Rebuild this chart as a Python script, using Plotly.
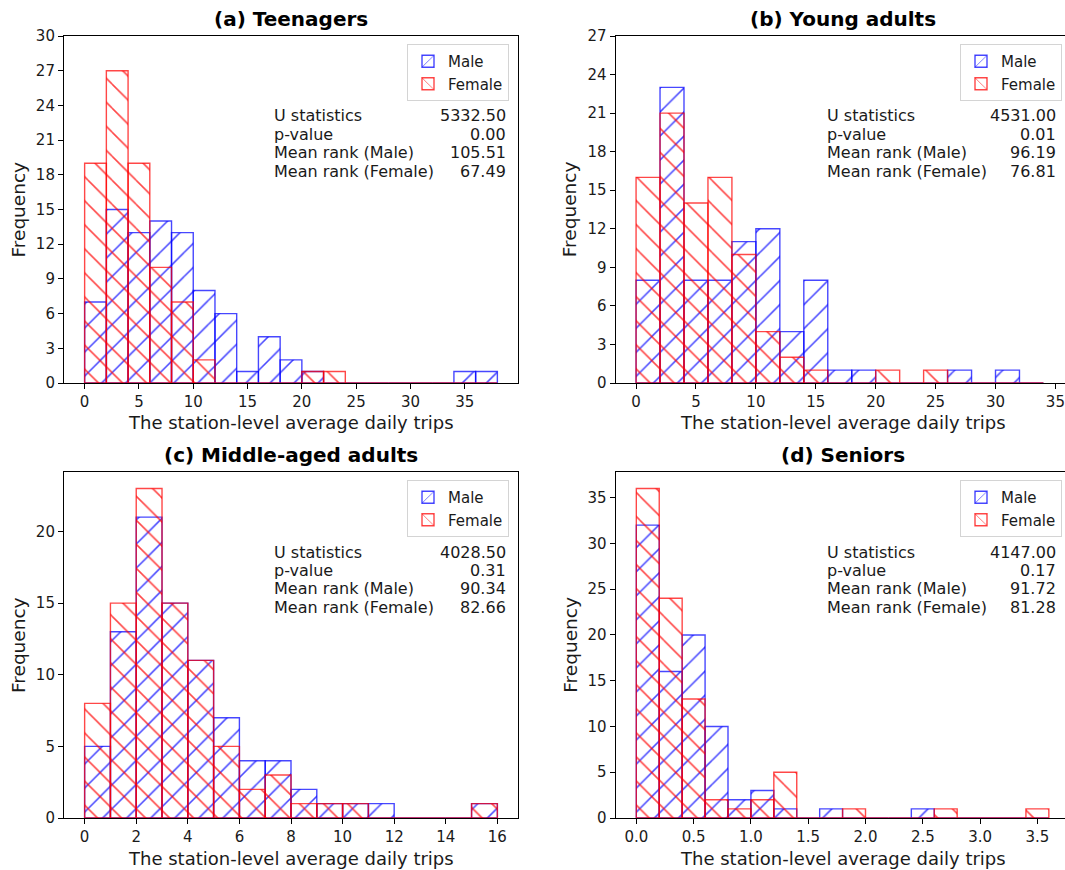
import plotly.graph_objects as go

# ---------------- data ----------------
teen_bin_start, teen_bin_width = 0.0, 2.0
teen_male = [7, 15, 13, 14, 13, 8, 6, 1, 4, 2, 1, 0, 0, 0, 0, 0, 0, 1, 1]
teen_female = [19, 27, 19, 10, 7, 2, 0, 0, 0, 0, 1, 1, 0, 0, 0, 0, 0, 0, 0]

young_bin_start, young_bin_width = 0.0, 2.0
young_male = [8, 23, 8, 8, 11, 12, 4, 8, 1, 1, 0, 0, 0, 1, 0, 1, 0]
young_female = [16, 21, 14, 16, 10, 4, 2, 1, 0, 0, 1, 0, 1, 0, 0, 0, 0]

middle_bin_start, middle_bin_width = 0.0, 1.0
middle_male = [5, 13, 21, 15, 11, 7, 4, 4, 2, 1, 1, 1, 0, 0, 0, 1]
middle_female = [8, 15, 23, 15, 11, 5, 2, 3, 1, 1, 1, 0, 0, 0, 0, 1]

senior_bin_start, senior_bin_width = 0.0, 0.2
senior_male = [32, 16, 20, 10, 2, 3, 1, 0, 1, 0, 0, 0, 1, 0, 0, 0, 0, 0]
senior_female = [36, 24, 13, 2, 1, 2, 5, 0, 0, 1, 0, 0, 0, 1, 0, 0, 0, 1]

titles = ["(a) Teenagers", "(b) Young adults", "(c) Middle-aged adults", "(d) Seniors"]
stat_labels = ["U statistics", "p-value", "Mean rank (Male)", "Mean rank (Female)"]
teen_stats = ["5332.50", "0.00", "105.51", "67.49"]
young_stats = ["4531.00", "0.01", "96.19", "76.81"]
middle_stats = ["4028.50", "0.31", "90.34", "82.66"]
senior_stats = ["4147.00", "0.17", "91.72", "81.28"]

x_label = "The station-level average daily trips"
y_label = "Frequency"

# ---------------- layout helpers ----------------
W, H = 1065, 870
FONT = "DejaVu Sans"
BLUE = "rgba(0,0,255,0.72)"
RED = "rgba(255,0,0,0.72)"
TXT = "#1a1a1a"


def fx(p):
    return p / W


def fy(p):
    return 1 - p / H


panels = [
    dict(title=titles[0], male=teen_male, female=teen_female, start=teen_bin_start,
         width=teen_bin_width, xr=[-1.9, 39.9], yr=[0, 30], xd=5, yd=3, stats=teen_stats,
         box=(64, 518, 36, 383), xfmt=None, xlab_y=422),
    dict(title=titles[1], male=young_male, female=young_female, start=young_bin_start,
         width=young_bin_width, xr=[-1.7, 35.8], yr=[0, 27], xd=5, yd=3, stats=young_stats,
         box=(615.7, 1065, 36, 383), xfmt=None, xlab_y=422),
    dict(title=titles[2], male=middle_male, female=middle_female, start=middle_bin_start,
         width=middle_bin_width, xr=[-0.8, 16.8], yr=[0, 24.15], xd=2, yd=5, stats=middle_stats,
         box=(64, 518, 472, 818), xfmt=None, xlab_y=858),
    dict(title=titles[3], male=senior_male, female=senior_female, start=senior_bin_start,
         width=senior_bin_width, xr=[-0.18, 3.741], yr=[0, 37.8], xd=0.5, yd=5, stats=senior_stats,
         box=(615.7, 1065, 472, 818), xfmt=".1f", xlab_y=858),
]

fig = go.Figure()
annotations = []
layout = dict(
    width=W, height=H,
    margin=dict(l=0, r=0, t=0, b=0),
    paper_bgcolor="white", plot_bgcolor="white",
    barmode="overlay",
    font=dict(family=FONT, color=TXT, size=14),
)

line_offsets = [80, 98.3, 116.6, 135]

for i, p in enumerate(panels):
    n = i + 1
    xa = "x" if n == 1 else f"x{n}"
    ya = "y" if n == 1 else f"y{n}"
    lg = "legend" if n == 1 else f"legend{n}"
    centers = [p["start"] + p["width"] * (k + 0.5) for k in range(len(p["male"]))]
    for name, vals, col, shape in [("Male", p["male"], BLUE, "/"),
                                   ("Female", p["female"], RED, "\\")]:
        fig.add_trace(go.Bar(
            x=centers, y=vals, width=p["width"], name=name,
            xaxis=xa, yaxis=ya, legend=lg,
            marker=dict(color="rgba(0,0,0,0)",
                        line=dict(color=col, width=1.4),
                        pattern=dict(shape=shape, fgcolor=col, bgcolor="rgba(0,0,0,0)",
                                     size=17, solidity=0.09, fillmode="replace")),
            hoverinfo="skip",
        ))
    x0, x1, y0, y1 = p["box"]
    axis_common = dict(showline=True, linecolor="black", linewidth=1.1, mirror=True,
                       ticks="outside", ticklen=5, tickwidth=1.1, tickcolor="black",
                       showgrid=False, zeroline=False, automargin=False,
                       tickfont=dict(family=FONT, size=15, color=TXT))
    xkey = "xaxis" if n == 1 else f"xaxis{n}"
    ykey = "yaxis" if n == 1 else f"yaxis{n}"
    layout[xkey] = dict(axis_common, domain=[fx(x0), fx(x1)], range=p["xr"],
                        tickmode="linear", tick0=0, dtick=p["xd"], anchor=ya,
                        **({"tickformat": p["xfmt"]} if p["xfmt"] else {}))
    layout[ykey] = dict(axis_common, domain=[fy(y1), fy(y0)], range=p["yr"],
                        tickmode="linear", tick0=0, dtick=p["yd"], anchor=xa)
    right_edge = 509 if x1 < 600 else 1062
    layout[lg] = dict(x=fx(right_edge), y=fy(y0 + 8), xanchor="right", yanchor="top",
                      xref="paper", yref="paper",
                      bgcolor="rgba(255,255,255,0.85)", bordercolor="#d4d4d4", borderwidth=1,
                      font=dict(family=FONT, size=15, color=TXT),
                      tracegroupgap=4, itemwidth=30)
    cx = (x0 + (x1 if x1 < 600 else 1069.7)) / 2
    annotations.append(dict(text=f"<b>{p['title']}</b>", x=fx(cx), y=fy(y0 - 17),
                            xref="paper", yref="paper", xanchor="center", yanchor="middle",
                            showarrow=False, font=dict(family=FONT, size=20, color="black")))
    annotations.append(dict(text=x_label, x=fx(cx), y=fy(p["xlab_y"]),
                            xref="paper", yref="paper", xanchor="center", yanchor="middle",
                            showarrow=False, font=dict(family=FONT, size=18, color=TXT)))
    annotations.append(dict(text=y_label, x=fx(x0 - 46), y=fy((y0 + y1) / 2), textangle=-90,
                            xref="paper", yref="paper", xanchor="center", yanchor="middle",
                            showarrow=False, font=dict(family=FONT, size=18.5, color=TXT)))
    left_x = 272 if x1 < 600 else 825
    right_x = 508 if x1 < 600 else 1058
    for lab, val, off in zip(stat_labels, p["stats"], line_offsets):
        annotations.append(dict(text=lab, x=fx(left_x), y=fy(y0 + off),
                                xref="paper", yref="paper", xanchor="left", yanchor="middle",
                                showarrow=False, font=dict(family=FONT, size=16, color=TXT)))
        annotations.append(dict(text=val, x=fx(right_x), y=fy(y0 + off),
                                xref="paper", yref="paper", xanchor="right", yanchor="middle",
                                showarrow=False, font=dict(family=FONT, size=16, color=TXT)))

layout["annotations"] = annotations
fig.update_layout(**layout)
fig.write_html("out.html")
